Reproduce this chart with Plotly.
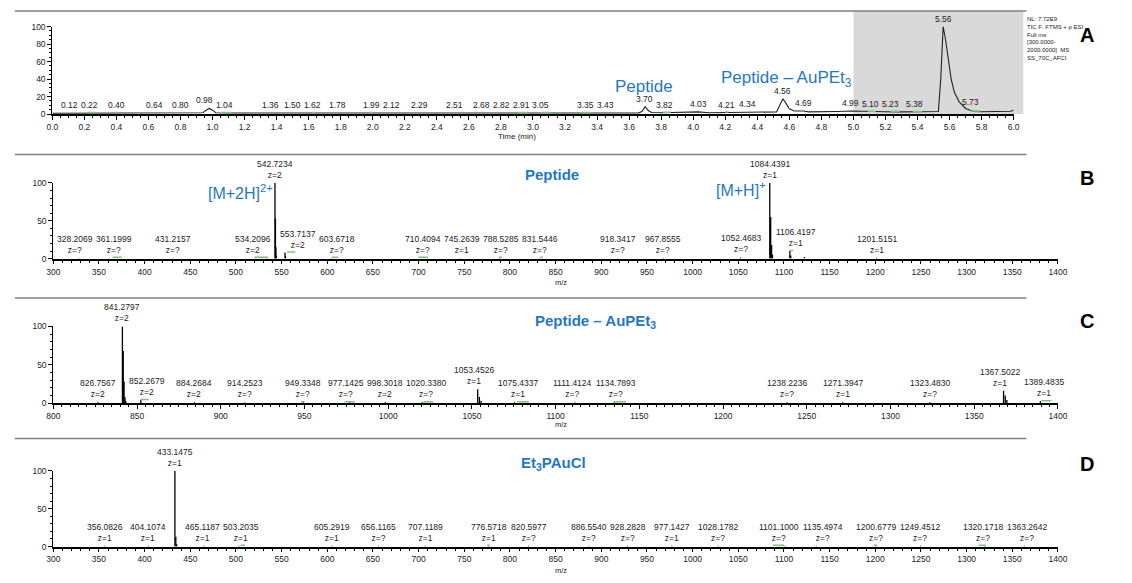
import plotly.graph_objects as go
import numpy as np

W, H = 1132, 583
FONT = "Liberation Sans"
BLUE = "#1f78c8"
LAB_SIZE = 8.5

# ---------------- Panel A: TIC chromatogram ----------------
tic_time = [0.00, 0.10, 0.20, 0.30, 0.40, 0.50, 0.60, 0.70, 0.80, 0.90, 0.94, 0.96, 0.98, 1.00, 1.02,
            1.10, 1.30, 1.50, 1.70, 1.90, 2.10, 2.30, 2.50, 2.70, 2.90, 3.10, 3.30, 3.50, 3.66,
            3.68, 3.70, 3.72, 3.74, 3.80, 4.00, 4.03, 4.10, 4.30, 4.45, 4.52, 4.54, 4.56, 4.58,
            4.60, 4.63, 4.69, 4.72, 4.80, 4.90, 4.99, 5.05, 5.10, 5.20, 5.30, 5.40, 5.50, 5.53,
            5.545, 5.56, 5.575, 5.59, 5.61, 5.63, 5.66, 5.70, 5.75, 5.80, 5.90, 5.96, 5.98, 6.00]
tic_int = [1.0, 1.1, 1.2, 1.1, 1.2, 1.1, 1.2, 1.1, 1.2, 1.2, 1.5, 4.5, 6.5, 4.5, 1.5,
           1.3, 1.2, 1.3, 1.2, 1.3, 1.2, 1.3, 1.2, 1.3, 1.3, 1.2, 1.3, 1.3, 1.4,
           3.0, 8.5, 4.0, 1.8, 1.5, 2.0, 2.5, 1.6, 1.8, 2.0, 2.5, 10.0, 17.5, 12.0,
           6.0, 3.5, 3.5, 2.5, 2.5, 3.0, 3.5, 3.0, 2.8, 2.6, 2.5, 2.4, 2.4, 3.0,
           40.0, 100.0, 85.0, 65.0, 40.0, 25.0, 14.0, 6.5, 3.0, 2.6, 2.5, 2.6, 3.2, 4.5]
tic_labels = [0.12, 0.22, 0.40, 0.64, 0.80, 0.98, 1.04, 1.36, 1.50, 1.62, 1.78, 1.99, 2.12, 2.29,
              2.51, 2.68, 2.82, 2.91, 3.05, 3.35, 3.43, 3.70, 3.82, 4.03, 4.21, 4.34, 4.56, 4.69,
              4.99, 5.10, 5.23, 5.38, 5.56, 5.73]
green_marks_A = [(0.22, 0.27), (0.39, 0.41), (1.05, 1.12), (1.62, 1.64), (1.98, 2.00), (2.91, 2.97),
                 (3.05, 3.11), (3.30, 3.36), (3.81, 3.86), (4.20, 4.22), (5.09, 5.14), (5.23, 5.29),
                 (5.37, 5.43), (5.73, 5.79)]
shade_start, shade_end = 5.0, 6.06
time_range = [0.0, 6.0]
nl_text = ["NL: 7.72E9", "TIC F: FTMS + p ESI", "Full ms", "[300.0000-", "2000.0000]  MS", "SS_70C_AFCI"]

# ---------------- Panel B: Peptide spectrum ----------------
B_mz = [328.2069, 361.1999, 431.2157, 534.2096, 542.7234, 543.2250, 543.7265, 544.2280, 553.7137,
        554.2150, 603.6718, 710.4094, 745.2639, 788.5285, 831.5446, 918.3417, 967.8555, 1052.4683,
        1084.4391, 1085.4420, 1086.4440, 1087.4460, 1106.4197, 1107.4230, 1122.4, 1201.5151]
B_int = [0.8, 0.8, 0.8, 1.2, 100, 53, 15, 4, 8, 3, 0.8, 0.8, 0.8, 0.8, 0.8, 0.8, 0.8, 1.5,
         100, 55, 18, 5, 10, 4, 2, 1.0]
B_lab_mz = [328.2069, 361.1999, 431.2157, 534.2096, 542.7234, 553.7137, 603.6718, 710.4094, 745.2639,
            788.5285, 831.5446, 918.3417, 967.8555, 1052.4683, 1084.4391, 1106.4197, 1201.5151]
B_lab_z = ["?", "?", "?", "2", "2", "2", "?", "?", "1", "?", "?", "?", "?", "?", "1", "1", "1"]
B_green = [(365, 375, 1), (520, 535, 1), (556, 565, 8), (605, 612, 1), (700, 710, 1), (788, 791, 1),
           (833, 836, 1), (1106, 1110, 10)]

# ---------------- Panel C: Peptide - AuPEt3 spectrum ----------------
C_mz = [826.7567, 841.2797, 841.7810, 842.2820, 842.7830, 843.2840, 852.2679, 884.2684, 914.2523,
        949.3348, 977.1425, 998.3018, 1020.3380, 1053.4526, 1054.4550, 1055.4570, 1075.4337,
        1111.4124, 1134.7893, 1238.2236, 1271.3947, 1323.4830, 1367.5022, 1368.5050, 1369.5070,
        1389.4835]
C_int = [1.0, 100, 68, 28, 8, 3, 4, 1.0, 0.8, 1.0, 1.0, 1.0, 1.0, 18, 8, 3, 1.0,
         0.8, 1.0, 1.0, 1.0, 1.0, 16, 10, 4, 2.5]
C_lab_mz = [826.7567, 841.2797, 852.2679, 884.2684, 914.2523, 949.3348, 977.1425, 998.3018, 1020.3380,
            1053.4526, 1075.4337, 1111.4124, 1134.7893, 1238.2236, 1271.3947, 1323.4830, 1367.5022,
            1389.4835]
C_lab_z = ["2", "2", "2", "2", "?", "?", "?", "2", "?", "1", "1", "?", "?", "?", "1", "?", "1", "1"]
C_green = [(852, 857, 4), (948, 950, 1), (974, 980, 1), (1021, 1027, 1), (1077, 1084, 1),
           (1135, 1142, 1), (1390, 1396, 2.5)]

# ---------------- Panel D: Et3PAuCl spectrum ----------------
D_mz = [356.0826, 404.1074, 433.1475, 434.1500, 435.1520, 465.1187, 503.2035, 605.2919, 656.1165,
        707.1189, 776.5718, 820.5977, 886.5540, 928.2828, 977.1427, 1028.1782, 1101.1000, 1135.4974,
        1200.6779, 1249.4512, 1320.1718, 1363.2642]
D_int = [1.0, 1.0, 100, 13, 3, 1.0, 1.0, 1.0, 1.0, 1.0, 1.0, 1.0, 1.0, 1.0, 1.0, 1.0, 1.0, 1.0,
         1.0, 1.0, 1.0, 1.0]
D_lab_mz = [356.0826, 404.1074, 433.1475, 465.1187, 503.2035, 605.2919, 656.1165, 707.1189, 776.5718,
            820.5977, 886.5540, 928.2828, 977.1427, 1028.1782, 1101.1000, 1135.4974, 1200.6779,
            1249.4512, 1320.1718, 1363.2642]
D_lab_z = ["1", "1", "1", "1", "1", "1", "?", "1", "1", "?", "?", "?", "1", "?", "?", "?", "?", "?", "?", "?"]
D_green = [(505, 510, 1), (775, 778, 1), (1088, 1100, 1), (1198, 1202, 1), (1313, 1321, 1)]

mz_range_full = [300, 1400]
mz_range_C = [800, 1400]


# ---------------- layout geometry (pixels) ----------------
def pxx(x):
    return x / W


def pyy(y):
    return 1 - y / H


panels = {
    # name: (x_left, x_right, y_zero_px, y_100_px)
    "A": (46, 1022, 111, 22),
    "B": (47, 1067, 258, 181),
    "C": (47, 1067, 405, 327),
    "D": (47, 1067, 551, 474),
}

fig = go.Figure()
annotations = []


def text_width(s, size):
    w = 0.0
    for ch in s:
        if ch.isdigit():
            w += 0.556
        elif ch in ".":
            w += 0.278
        else:
            w += 0.55
    return w * size


def place_labels(panel, rng, labels, obstacles, gap=3.0):
    """labels: list of (x_data, h_data, text, n_lines); returns pixel shifts that avoid overlaps."""
    xl, xr, y0, y1 = panels[panel]
    sx = (xr - xl) / (rng[1] - rng[0])
    sy = (y0 - y1) / 100.0
    items = []
    for xd, hd, txt_, nl in labels:
        cx = xl + (xd - rng[0]) * sx
        bot = y0 - hd * sy - 1
        top = bot - nl * LAB_SIZE * 1.3
        w = max(text_width(line, LAB_SIZE) for line in txt_.split("<br>"))
        items.append(dict(cx=cx, cx0=cx, w=w, top=top, bot=bot, fixed=False))
    for xd, hd in obstacles:
        cx = xl + (xd - rng[0]) * sx
        items.append(dict(cx=cx, cx0=cx, w=1.5, top=y0 - hd * sy, bot=y0, fixed=True))
    for _ in range(400):
        moved = False
        for a in items:
            for b in items:
                if a is b or a["cx"] > b["cx"] or (a["cx"] == b["cx"] and id(a) > id(b)):
                    continue
                if a["bot"] <= b["top"] or b["bot"] <= a["top"]:
                    continue
                need = (a["w"] + b["w"]) / 2 + gap - (b["cx"] - a["cx"])
                if need <= 0.01:
                    continue
                if a["fixed"] and b["fixed"]:
                    continue
                moved = True
                if a["fixed"]:
                    b["cx"] += need
                elif b["fixed"]:
                    a["cx"] -= need
                else:
                    a["cx"] -= need / 2
                    b["cx"] += need / 2
        if not moved:
            break
    return [it["cx"] - it["cx0"] for it in items[:len(labels)]]


# Panel A trace
fig.add_trace(go.Scatter(x=tic_time, y=tic_int, mode="lines",
                         line=dict(color="#222222", width=1.1), xaxis="x", yaxis="y",
                         hoverinfo="skip"))


def add_green(marks, xa, ya):
    gx, gy = [], []
    for a, b, h in marks:
        gx += [a, b, None]
        gy += [h + 0.6, h + 0.6, None]
    fig.add_trace(go.Scatter(x=gx, y=gy, mode="lines", line=dict(color="#7cc47c", width=1.5),
                             xaxis=xa, yaxis=ya, hoverinfo="skip"))


add_green([(a, b, float(np.interp((a + b) / 2, tic_time, tic_int))) for a, b in green_marks_A], "x", "y")

a_labels = [(t, float(np.interp(t, tic_time, tic_int)), f"{t:.2f}", 1) for t in tic_labels]
a_shift = place_labels("A", time_range, a_labels, [], gap=3.5)
for (t, h, s, _), dx in zip(a_labels, a_shift):
    annotations.append(dict(x=t, y=h, xref="x", yref="y", text=s, showarrow=False, xshift=dx,
                            yanchor="bottom", yshift=1, font=dict(family=FONT, size=LAB_SIZE, color="#222")))


def add_sticks(mz, inten, xa, ya):
    xs, ys = [], []
    for m, i in zip(mz, inten):
        xs += [m, m, None]
        ys += [0, i, None]
    fig.add_trace(go.Scatter(x=xs, y=ys, mode="lines", line=dict(color="black", width=1.3),
                             xaxis=xa, yaxis=ya, hoverinfo="skip"))


def add_labels(panel, rng, mz, inten, lab_mz, lab_z, xa, ya):
    labs = [(m, inten[mz.index(m)], f"{m:.4f}<br>z={z}", 2) for m, z in zip(lab_mz, lab_z)]
    obst = [(m, i) for m, i in zip(mz, inten) if i > 3]
    shifts = place_labels(panel, rng, labs, obst, gap=4)
    for (m, h, s, _), dx in zip(labs, shifts):
        annotations.append(dict(x=m, y=h, xref=xa, yref=ya, text=s, showarrow=False,
                                yanchor="bottom", yshift=1, xshift=dx,
                                font=dict(family=FONT, size=LAB_SIZE, color="#222")))


add_sticks(B_mz, B_int, "x2", "y2")
add_green(B_green, "x2", "y2")
add_labels("B", mz_range_full, B_mz, B_int, B_lab_mz, B_lab_z, "x2", "y2")
add_sticks(C_mz, C_int, "x3", "y3")
add_green(C_green, "x3", "y3")
add_labels("C", mz_range_C, C_mz, C_int, C_lab_mz, C_lab_z, "x3", "y3")
add_sticks(D_mz, D_int, "x4", "y4")
add_green(D_green, "x4", "y4")
add_labels("D", mz_range_full, D_mz, D_int, D_lab_mz, D_lab_z, "x4", "y4")

tickfont = dict(family=FONT, size=8.5, color="#222")


def xaxis_cfg(p, rng, dtick, minor, fmt, anchor):
    xl, xr, y0, y1 = panels[p]
    return dict(domain=[pxx(xl), pxx(xr)], range=rng, anchor=anchor, showline=True, linecolor="black",
                linewidth=1.5, ticks="outside", ticklen=4, tickwidth=1, tickcolor="black", dtick=dtick,
                tick0=rng[0], tickformat=fmt, showgrid=False, zeroline=False, tickfont=tickfont,
                minor=dict(dtick=minor, ticks="outside", ticklen=2.5, tickcolor="black", showgrid=False))


def yaxis_cfg(p, dtick, minor, anchor):
    xl, xr, y0, y1 = panels[p]
    return dict(domain=[pyy(y0), pyy(y1)], range=[0, 100], anchor=anchor, showline=True, linecolor="black",
                linewidth=1, ticks="outside", ticklen=4, tickwidth=1, tickcolor="black", dtick=dtick,
                showgrid=False, zeroline=False, tickfont=tickfont,
                minor=dict(dtick=minor, ticks="outside", ticklen=2.5, tickcolor="black", showgrid=False))


layout = dict(
    width=W, height=H, margin=dict(l=0, r=0, t=0, b=0), showlegend=False,
    paper_bgcolor="white", plot_bgcolor="rgba(0,0,0,0)",
    xaxis=xaxis_cfg("A", time_range, 0.2, 0.05, ".1f", "y"),
    yaxis=yaxis_cfg("A", 20, 5, "x"),
    xaxis2=xaxis_cfg("B", mz_range_full, 50, 10, "d", "y2"),
    yaxis2=yaxis_cfg("B", 50, 10, "x2"),
    xaxis3=xaxis_cfg("C", mz_range_C, 50, 5, "d", "y3"),
    yaxis3=yaxis_cfg("C", 50, 10, "x3"),
    xaxis4=xaxis_cfg("D", mz_range_full, 50, 10, "d", "y4"),
    yaxis4=yaxis_cfg("D", 50, 10, "x4"),
)
fig.update_layout(**layout)

shapes = []
xl, xr, y0, y1 = panels["A"]
shapes.append(dict(type="rect", xref="x domain", yref="y domain",
                   x0=(shade_start - time_range[0]) / (time_range[1] - time_range[0]),
                   x1=(shade_end - time_range[0]) / (time_range[1] - time_range[0]),
                   y0=0, y1=(y0 - 6) / (y0 - y1), fillcolor="#d9d9d9", line=dict(width=0), layer="below"))
for ysep in [6, 152, 298, 441]:
    shapes.append(dict(type="line", xref="paper", yref="paper", x0=pxx(8), x1=pxx(1035),
                       y0=pyy(ysep), y1=pyy(ysep), line=dict(color="#7f7f7f", width=1.5)))
fig.update_layout(shapes=shapes)


def txt(x, y, text, size, color="#222", bold=False, xanchor="center", align="center"):
    if bold:
        text = f"<b>{text}</b>"
    annotations.append(dict(x=pxx(x), y=pyy(y), xref="paper", yref="paper", text=text, showarrow=False,
                            xanchor=xanchor, yanchor="middle", align=align,
                            font=dict(family=FONT, size=size, color=color)))


txt(518, 134, "Time (min)", 8)
txt(562, 282, "m/z", 7.5)
txt(562, 427, "m/z", 7.5)
txt(562, 575, "m/z", 7.5)

for letter, yl in [("A", 31), ("B", 176), ("C", 322), ("D", 467)]:
    txt(1096, yl, letter, 20, color="black", bold=True)

annotations.append(dict(x=pxx(1034), y=pyy(9), xref="paper", yref="paper", text="<br>".join(nl_text),
                        showarrow=False, xanchor="left", yanchor="top", align="left",
                        font=dict(family=FONT, size=6, color="#222")))

txt(647, 83, "Peptide", 17, color=BLUE)
txt(791, 75, "Peptide \u2013 AuPEt<sub>3</sub>", 17, color=BLUE)
txt(553, 172, "Peptide", 15, color=BLUE, bold=True)
txt(237, 190, "[M+2H]<sup>2+</sup>", 16, color=BLUE)
txt(745, 187, "[M+H]<sup>+</sup>", 16, color=BLUE)
txt(597, 322, "Peptide \u2013 AuPEt<sub>3</sub>", 15, color=BLUE, bold=True)
txt(555, 467, "Et<sub>3</sub>PAuCl", 15, color=BLUE, bold=True)

fig.update_layout(annotations=annotations)
fig.write_html("out.html")
